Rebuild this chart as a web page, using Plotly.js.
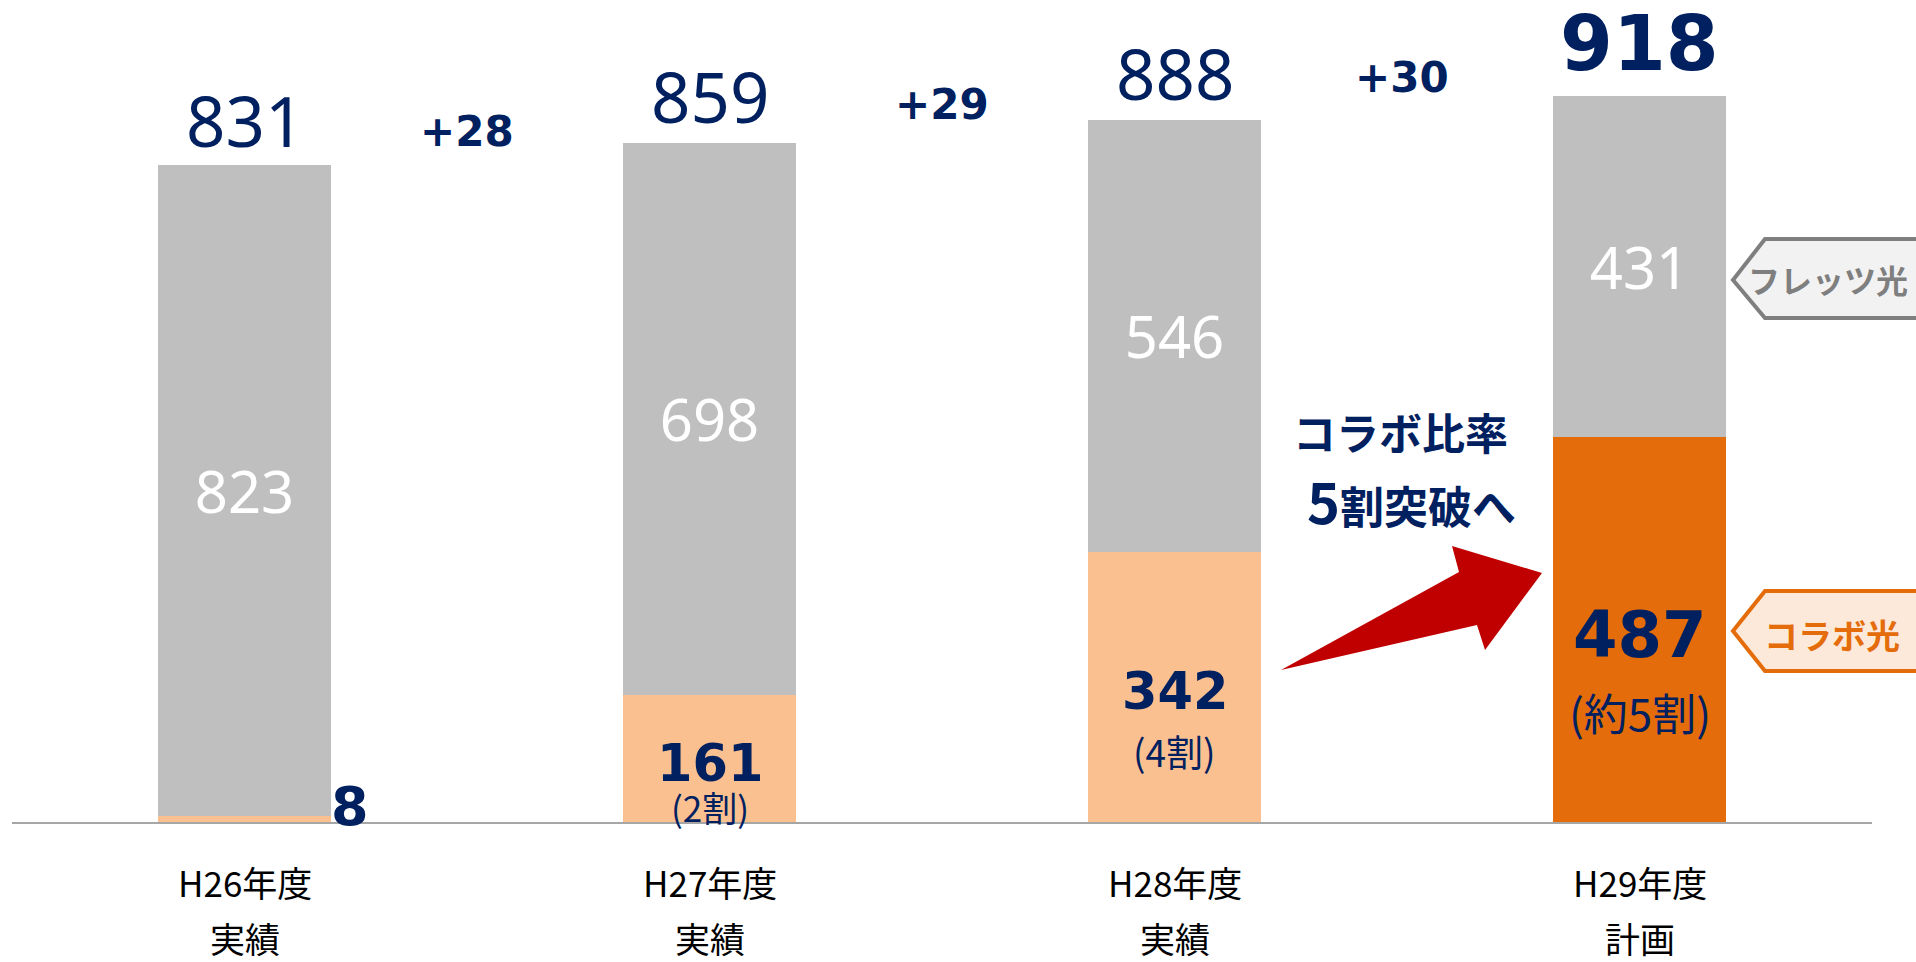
<!DOCTYPE html>
<html>
<head>
<meta charset="utf-8">
<script src="https://cdn.plot.ly/plotly-3.0.1.min.js"></script>
<style>
  html, body { margin: 0; padding: 0; background: #ffffff; }
  #chart { width: 1916px; height: 962px; }
</style>
</head>
<body>
<div id="chart"></div>
<script>
// ---- data ----
const categories = ['H26年度', 'H27年度', 'H28年度', 'H29年度'];
const categorySub = ['実績', '実績', '実績', '計画'];
const fletsValues = [823, 698, 546, 431];      // フレッツ光
const collaboValues = [8, 161, 342, 487];      // コラボ光
const totalValues = [831, 859, 888, 918];
const shareLabels = ['', '(2割)', '(4割)', '(約5割)'];
const deltaLabels = ['+28', '+29', '+30'];
const seriesNames = ['フレッツ光', 'コラボ光'];

// ---- styles ----
const NAVY = '#002060';
const GRAY = '#BFBFBF';
const LIGHT_ORANGE = '#FAC090';
const DARK_ORANGE = '#E46C0A';
const CJK = '"Noto Sans CJK JP", "Noto Sans", sans-serif';
const LAT = '"Noto Sans", "Noto Sans CJK JP", sans-serif';
const BOLDNUM = '"DejaVu Sans", "Noto Sans", sans-serif';

const W = 1916, H = 962;
const M = {l: 12, r: 44, t: 0, b: 140};
const PW = W - M.l - M.r, PH = H - M.t - M.b;
const px = (x) => (x - M.l) / PW;
const py = (y) => (M.t + PH - y) / PH;
const path = (pts) => 'M' + pts.map(p => px(p[0]).toFixed(5) + ',' + py(p[1]).toFixed(5)).join(' L') + ' Z';

const collaboColors = categories.map((c, i) => i === categories.length - 1 ? DARK_ORANGE : LIGHT_ORANGE);

const traces = [
  {
    type: 'bar', name: seriesNames[1], x: categories, y: collaboValues,
    marker: {color: collaboColors, line: {width: 0}},
    width: 0.37, hoverinfo: 'x+y'
  },
  {
    type: 'bar', name: seriesNames[0], x: categories, y: fletsValues,
    marker: {color: GRAY, line: {width: 0}},
    width: 0.37,
    text: fletsValues.map(String), textposition: 'inside', insidetextanchor: 'middle',
    textangle: 0, constraintext: 'none',
    textfont: {family: LAT, size: 58, color: '#ffffff'},
    hoverinfo: 'x+y'
  }
];

const annotations = [];
const ann = (o) => annotations.push(Object.assign({showarrow: false, borderpad: 0, yanchor: 'middle', xanchor: 'center'}, o));

// totals above bars
const totalShift = [45, 47, 47, 53];
totalValues.forEach((v, i) => {
  const last = i === totalValues.length - 1;
  ann({
    x: i, y: v, xref: 'x', yref: 'y', text: last ? '<b>' + v + '</b>' : String(v),
    yshift: totalShift[i],
    font: {family: last ? BOLDNUM : LAT, size: last ? 76 : 69, color: NAVY}
  });
});

// deltas between bars
const deltaX = [0.478, 1.5, 2.49];
const deltaShift = [12, 16, 19];
deltaLabels.forEach((t, i) => {
  ann({
    x: deltaX[i], y: totalValues[i + 1], xref: 'x', yref: 'y', text: '<b>' + t + '</b>',
    yshift: deltaShift[i],
    font: {family: BOLDNUM, size: 42, color: NAVY}
  });
});

// collabo values
const collaboSize = [54, 51, 51, 64];
collaboValues.forEach((v, i) => {
  if (i === 0) {
    ann({
      x: i, y: v, xref: 'x', yref: 'y', text: '<b>' + v + '</b>',
      xshift: 105, yshift: 9,
      font: {family: BOLDNUM, size: collaboSize[i], color: NAVY}
    });
  } else {
    ann({
      x: i, y: v / 2, xref: 'x', yref: 'y', text: '<b>' + v + '</b>',
      yshift: -5,
      font: {family: BOLDNUM, size: collaboSize[i], color: NAVY}
    });
  }
});

// share labels
const shareY = [0, 20, 90, 139];
const shareSize = [35, 35, 37, 44];
shareLabels.forEach((t, i) => {
  if (!t) return;
  ann({
    x: i, y: shareY[i], xref: 'x', yref: 'y', text: t,
    font: {family: CJK, size: shareSize[i], color: NAVY}
  });
});

// category labels (two lines)
categories.forEach((c, i) => {
  ann({
    x: i, y: py(881), xref: 'x', yref: 'paper', text: c,
    font: {family: CJK, size: 35, color: '#000000'}
  });
  ann({
    x: i, y: py(937), xref: 'x', yref: 'paper', text: categorySub[i],
    font: {family: CJK, size: 35, color: '#000000'}
  });
});

// callout texts
ann({
  x: px(1400), y: py(431), xref: 'paper', yref: 'paper', text: '<b>コラボ比率</b>',
  font: {family: CJK, size: 43, color: NAVY}
});
ann({
  x: px(1411), y: py(499), xref: 'paper', yref: 'paper',
  text: '<b><span style="font-size:56px">5</span>割突破へ</b>',
  font: {family: CJK, size: 44, color: NAVY}
});
ann({
  x: px(1828), y: py(279), xref: 'paper', yref: 'paper', text: '<b>' + seriesNames[0] + '</b>',
  font: {family: CJK, size: 32, color: '#7F7F7F'}
});
ann({
  x: px(1832), y: py(634), xref: 'paper', yref: 'paper', text: '<b>' + seriesNames[1] + '</b>',
  font: {family: CJK, size: 34, color: DARK_ORANGE}
});

const shapes = [
  { // red arrow
    type: 'path', xref: 'paper', yref: 'paper', layer: 'above',
    path: path([[1281, 670], [1459, 572], [1452, 546], [1542, 573], [1485, 650], [1477, 625]]),
    fillcolor: '#C00000', line: {width: 0}
  },
  { // フレッツ光 callout
    type: 'path', xref: 'paper', yref: 'paper', layer: 'below',
    path: path([[1733, 280], [1765, 239], [1930, 239], [1930, 318], [1765, 318]]),
    fillcolor: '#F2F2F2', line: {color: '#7F7F7F', width: 4}
  },
  { // コラボ光 callout
    type: 'path', xref: 'paper', yref: 'paper', layer: 'below',
    path: path([[1733, 631], [1765, 591], [1930, 591], [1930, 671], [1765, 671]]),
    fillcolor: '#FDE9D9', line: {color: DARK_ORANGE, width: 4}
  }
];

const layout = {
  width: W, height: H,
  margin: M,
  paper_bgcolor: '#ffffff', plot_bgcolor: 'rgba(0,0,0,0)',
  barmode: 'stack',
  showlegend: false,
  xaxis: {
    type: 'category', range: [-0.5, 3.5], showticklabels: false, ticks: '',
    showgrid: false, zeroline: false, showline: true, linecolor: '#A6A6A6', linewidth: 2
  },
  yaxis: {
    range: [0, 1040], showticklabels: false, showgrid: false, zeroline: false, showline: false, ticks: ''
  },
  annotations: annotations,
  shapes: shapes
};

Plotly.newPlot('chart', traces, layout, {displayModeBar: false, staticPlot: true});
</script>
</body>
</html>
